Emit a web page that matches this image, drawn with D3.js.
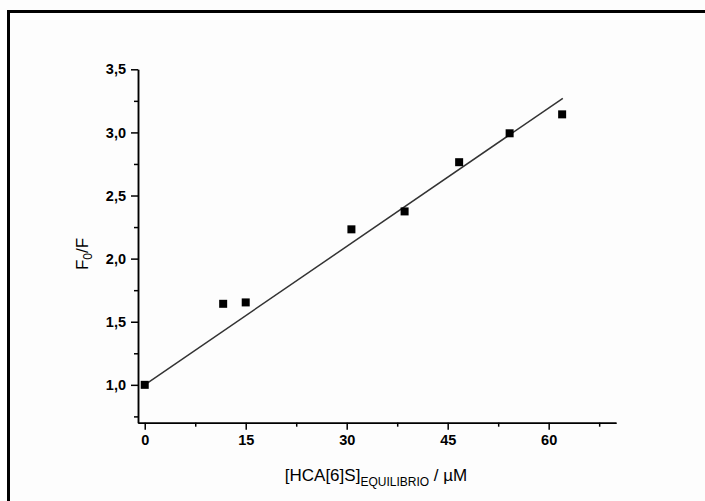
<!DOCTYPE html>
<html>
<head>
<meta charset="utf-8">
<script src="https://cdn.jsdelivr.net/npm/d3@7"></script>
<style>
  body { margin:0; background:#fdfdfd; }
  svg { display:block; font-family:"Liberation Sans", Arial, sans-serif; }
  .axis path, .axis line { stroke:#000; stroke-width:1.5; }
  .axis text { font-size:14.5px; font-weight:bold; fill:#000; }
</style>
</head>
<body>
<div id="chart"></div>
<script>
// measured points, [HCA[6]S] in uM vs F0/F
const concX = [0, 11.65, 15.0, 30.7, 38.6, 46.7, 54.2, 62.0];
const ratioY = [1.0, 1.642, 1.653, 2.232, 2.374, 2.764, 2.993, 3.143];
// fitted line endpoints as drawn
const fitX = [0, 62.1];
const fitY = [1.0, 3.27];
const xTicks = [0, 15, 30, 45, 60];
const xMinor = [7.5, 22.5, 37.5, 52.5, 67.5];
const yTicks = [1.0, 1.5, 2.0, 2.5, 3.0, 3.5];
const yMinor = [0.75, 1.25, 1.75, 2.25, 2.75, 3.25];

(function() {
    const totalW = 705, totalH = 501;
    const margin = { top:69.3, left:138, right:89, bottom:78.3 };
    const W = totalW - margin.left - margin.right, H = totalH - margin.top - margin.bottom;

    const root = d3.select("#chart").append("svg").attr("width", totalW).attr("height", totalH);
    root.append("rect").attr("width", totalW).attr("height", totalH).attr("fill", "#fdfdfd");
    // frame, only top and left edges fall inside the picture
    root.append("rect").attr("x", 8.5).attr("y", 11.5).attr("width", 800).attr("height", 600)
        .attr("fill", "none").attr("stroke", "#000").attr("stroke-width", 3);

    const svg = root.append("g").attr("transform", `translate(${margin.left},${margin.top})`);

    const x = d3.scaleLinear().domain([-1, 70]).range([0, W]);
    const y = d3.scaleLinear().domain([0.7, 3.5]).range([H, 0]);
    const fmt = d => d3.format(".1f")(d).replace(".", ",");

    svg.append("g").attr("class", "axis").attr("transform", `translate(0,${H})`)
        .call(d3.axisBottom(x).tickValues(xMinor).tickSize(4).tickSizeOuter(0).tickFormat(""));
    svg.append("g").attr("class", "axis").attr("transform", `translate(0,${H})`)
        .call(d3.axisBottom(x).tickValues(xTicks).tickSize(7).tickSizeOuter(0).tickPadding(5).tickFormat(d3.format("d")));
    svg.append("g").attr("class", "axis")
        .call(d3.axisLeft(y).tickValues(yMinor).tickSize(4).tickSizeOuter(0).tickFormat(""));
    svg.append("g").attr("class", "axis")
        .call(d3.axisLeft(y).tickValues(yTicks).tickSize(7).tickSizeOuter(0).tickPadding(5).tickFormat(fmt));

    const fit = fitX.map((v, i) => ({ x:v, y:fitY[i] }));
    svg.append("path").datum(fit).attr("fill", "none").attr("stroke", "#333").attr("stroke-width", 1.5)
        .attr("d", d3.line().x(d => x(d.x)).y(d => y(d.y)));

    const pts = concX.map((v, i) => ({ x:v, y:ratioY[i] }));
    const s = 8;
    svg.selectAll(".pt").data(pts).enter().append("rect").attr("class", "pt")
        .attr("x", d => x(d.x) - s / 2).attr("y", d => y(d.y) - s / 2)
        .attr("width", s).attr("height", s).attr("fill", "#000");

    // axis titles
    const xt = root.append("text").attr("x", 376).attr("y", 481).attr("text-anchor", "middle")
        .style("font-size", "17px").attr("fill", "#000");
    xt.append("tspan").text("[HCA[6]S]");
    xt.append("tspan").attr("dy", 5).style("font-size", "12px").text("EQUILIBRIO");
    xt.append("tspan").attr("dy", -5).text(" / \u00b5M");

    const yt = root.append("text").attr("transform", "translate(88,254) rotate(-90)")
        .attr("text-anchor", "middle").style("font-size", "17px").attr("fill", "#000");
    yt.append("tspan").text("F");
    yt.append("tspan").attr("dy", 4).style("font-size", "12px").text("0");
    yt.append("tspan").attr("dy", -4).text("/F");
})();
</script>
</body>
</html>
